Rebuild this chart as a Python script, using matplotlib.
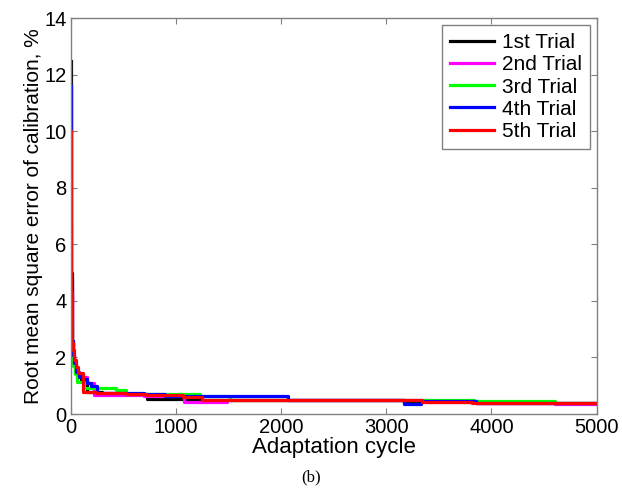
import matplotlib
matplotlib.use("Agg")
import matplotlib.pyplot as plt

labels = ["1st Trial", "2nd Trial", "3rd Trial", "4th Trial", "5th Trial"]
colors = ["#000000", "#ff00ff", "#00ff00", "#0000ff", "#ff0000"]

t1_x = [0, 3, 6, 10, 15, 20, 30, 45, 60, 100, 150, 300, 500, 725, 1250, 2000, 3170, 3320, 3850, 5000]
t1_y = [12.5, 8.0, 5.0, 3.5, 2.6, 2.1, 1.75, 1.5, 1.35, 1.2, 0.78, 0.75, 0.72, 0.52, 0.5, 0.48, 0.38, 0.45, 0.38, 0.38]

t2_x = [0, 3, 6, 10, 15, 20, 30, 50, 80, 150, 220, 700, 1080, 1490, 2000, 3400, 3850, 4600, 5000]
t2_y = [11.6, 7.0, 4.5, 3.2, 2.5, 2.0, 1.7, 1.45, 1.3, 1.1, 0.68, 0.65, 0.44, 0.49, 0.48, 0.44, 0.38, 0.37, 0.37]

t3_x = [0, 3, 6, 10, 15, 25, 40, 55, 130, 430, 530, 1230, 1510, 2050, 3830, 4600, 5000]
t3_y = [6.8, 4.5, 3.2, 2.5, 2.0, 1.7, 1.4, 1.12, 0.92, 0.85, 0.72, 0.62, 0.5, 0.48, 0.46, 0.38, 0.38]

t4_x = [0, 3, 6, 10, 15, 20, 30, 50, 80, 110, 150, 190, 250, 700, 900, 2070, 3170, 3330, 3850, 5000]
t4_y = [11.6, 7.5, 4.8, 3.4, 2.6, 2.1, 1.8, 1.5, 1.3, 1.24, 1.09, 1.0, 0.76, 0.7, 0.62, 0.5, 0.37, 0.45, 0.38, 0.38]

t5_x = [0, 3, 6, 10, 15, 20, 30, 50, 70, 114, 240, 525, 716, 1065, 1245, 3336, 3812, 5000]
t5_y = [10.0, 6.5, 4.3, 3.1, 2.5, 2.26, 1.9, 1.67, 1.45, 0.78, 0.76, 0.72, 0.66, 0.6, 0.5, 0.43, 0.39, 0.39]

series = [(t1_x, t1_y), (t2_x, t2_y), (t3_x, t3_y), (t4_x, t4_y), (t5_x, t5_y)]

xticks = [0, 1000, 2000, 3000, 4000, 5000]
yticks = [0, 2, 4, 6, 8, 10, 12, 14]

plt.rcParams['font.family'] = ['Liberation Sans', 'DejaVu Sans']

fig = plt.figure(figsize=(6.22, 4.90), dpi=100)
ax = fig.add_axes([0.1137, 0.1551, 0.9593 - 0.1137, 0.9627 - 0.1551])

for (xs, ys), c, lab in zip(series, colors, labels):
    ax.plot(xs, ys, drawstyle='steps-post', color=c, lw=2.3, label=lab)

ax.set_xlim(0, 5000)
ax.set_ylim(0, 14)
ax.set_xticks(xticks)
ax.set_yticks(yticks)
ax.tick_params(direction='in', length=4, width=0.8, colors='#808080',
               labelcolor='black', labelsize=14.5, top=True, right=True, pad=3)
for s in ax.spines.values():
    s.set_color('#808080')
    s.set_linewidth(1.0)

ax.set_xlabel("Adaptation cycle", fontsize=16, labelpad=0)
ax.set_ylabel("Root mean square error of calibration, %", fontsize=15, labelpad=1)

leg = ax.legend(loc='upper right', bbox_to_anchor=(0.987, 0.983), borderaxespad=0,
                fontsize=15, fancybox=False, framealpha=1, edgecolor='#808080',
                handlelength=2.1, handletextpad=0.35, labelspacing=0.15,
                borderpad=0.4)
leg.get_frame().set_linewidth(1.0)
for h in leg.get_lines():
    h.set_linewidth(2.3)

fig.text(0.5, 0.025, "(b)", fontsize=12, family='Liberation Serif', ha='center', va='center')

fig.savefig("out.png", dpi=100)
